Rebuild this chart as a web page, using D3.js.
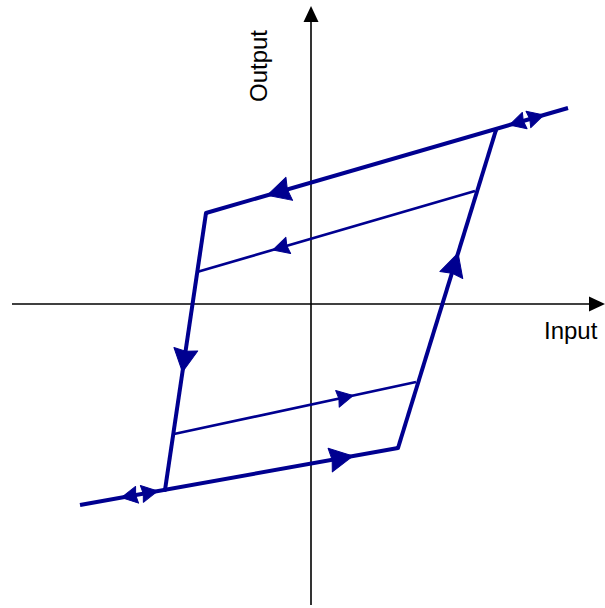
<!DOCTYPE html>
<html>
<head>
<meta charset="utf-8">
<script src="https://cdn.jsdelivr.net/npm/d3@7"></script>
<style>
  html, body { margin: 0; padding: 0; background: #fff; }
  svg { display: block; }
</style>
</head>
<body>
<svg id="chart" width="605" height="608"></svg>
<script>
// Hysteresis loop: input on x, output on y (origin at the axis crossing)
const axisLabels = ["Input", "Output"];

// Thick outer loop branches [from, to] in input/output units
const branchNames = ["top", "right", "bottom", "left"];
const branchFrom = [[-105, 91], [87, -144], [-231, -201], [-105, 91]];
const branchTo   = [[257, 196], [185, 174], [87, -144], [-146, -186]];

// Thin inner return paths
const innerNames = ["upperInner", "lowerInner"];
const innerFrom = [[-114, 32], [-137, -130]];
const innerTo   = [[164, 113], [105, -78]];

// Direction markers: path, position of the tip along it, direction (+1 forward, -1 back), size
const arrowPath = ["top", "upperInner", "left", "right", "bottom", "lowerInner", "top", "top", "bottom", "bottom"];
const arrowAt   = [0.169, 0.273, 0.574, 0.613, 0.858, 0.74, 0.838, 0.933, 0.130, 0.244];
const arrowDir  = [-1, -1, 1, 1, 1, 1, -1, 1, -1, 1];
const arrowBig  = [true, false, true, true, true, false, false, false, false, false];

const W = 605, H = 608;
const ink = "#000090";
const svg = d3.select("#chart");

const x = d3.scaleLinear().domain([-299, 294]).range([12, 605]);
const y = d3.scaleLinear().domain([-301, 298]).range([605, 6]);

// ---- axes ----
const axes = svg.append("g").attr("stroke", "#000").attr("fill", "#000");
axes.append("line")
  .attr("x1", x(-299)).attr("x2", x(294) - 8)
  .attr("y1", y(0)).attr("y2", y(0))
  .attr("stroke-width", 1.6);
axes.append("line")
  .attr("x1", x(0)).attr("x2", x(0))
  .attr("y1", y(-301)).attr("y2", y(298) + 8)
  .attr("stroke-width", 1.6);
// axis arrowheads
axes.append("path")
  .attr("stroke", "none")
  .attr("d", `M${x(294)},${y(0)} L${x(294) - 16},${y(0) - 7.5} L${x(294) - 16},${y(0) + 7.5} Z`);
axes.append("path")
  .attr("stroke", "none")
  .attr("d", `M${x(0)},${y(298)} L${x(0) - 7.5},${y(298) + 16} L${x(0) + 7.5},${y(298) + 16} Z`);

// axis titles
svg.append("text")
  .attr("x", x(0) + 233).attr("y", y(0) + 35)
  .attr("font-family", "Liberation Sans, Arial, sans-serif")
  .attr("font-size", 24).attr("fill", "#000")
  .text(axisLabels[0]);
svg.append("text")
  .attr("transform", `translate(${x(0) - 44},66) rotate(-90)`)
  .attr("text-anchor", "middle")
  .attr("font-family", "Liberation Sans, Arial, sans-serif")
  .attr("font-size", 24).attr("fill", "#000")
  .text(axisLabels[1]);

// ---- loop ----
const segs = {};
branchNames.forEach((n, i) => segs[n] = { a: branchFrom[i], b: branchTo[i], w: 4 });
innerNames.forEach((n, i) => segs[n] = { a: innerFrom[i], b: innerTo[i], w: 2.6 });

const loop = svg.append("g");
loop.selectAll("line.seg")
  .data(Object.values(segs))
  .join("line")
  .attr("class", "seg")
  .attr("x1", d => x(d.a[0])).attr("y1", d => y(d.a[1]))
  .attr("x2", d => x(d.b[0])).attr("y2", d => y(d.b[1]))
  .attr("stroke", ink)
  .attr("stroke-width", d => d.w)
  .attr("stroke-linecap", "butt");

// corner joins on the outer loop
const corners = [branchFrom[0], branchTo[1], branchTo[2], branchTo[3]];
loop.selectAll("circle.corner")
  .data(corners)
  .join("circle")
  .attr("class", "corner")
  .attr("cx", d => x(d[0])).attr("cy", d => y(d[1]))
  .attr("r", 2).attr("fill", ink);

// ---- direction arrowheads ----
const arrows = arrowPath.map((p, i) => {
  const s = segs[p];
  const t = arrowAt[i];
  const px = x(s.a[0] + (s.b[0] - s.a[0]) * t);
  const py = y(s.a[1] + (s.b[1] - s.a[1]) * t);
  let ang = Math.atan2(y(s.b[1]) - y(s.a[1]), x(s.b[0]) - x(s.a[0])) * 180 / Math.PI;
  if (arrowDir[i] < 0) ang += 180;
  return { px, py, ang, big: arrowBig[i] };
});

loop.selectAll("path.arrow")
  .data(arrows)
  .join("path")
  .attr("class", "arrow")
  .attr("transform", d => `translate(${d.px},${d.py}) rotate(${d.ang})`)
  .attr("d", d => {
    const L = d.big ? 23 : 16, h = d.big ? 12 : 8.5, n = d.big ? 2 : 1.5;
    return `M0,0 L${-L},${-h} L${-L + n},0 L${-L},${h} Z`;
  })
  .attr("fill", ink)
  .attr("stroke", ink)
  .attr("stroke-width", 1)
  .attr("stroke-linejoin", "round");
</script>
</body>
</html>
